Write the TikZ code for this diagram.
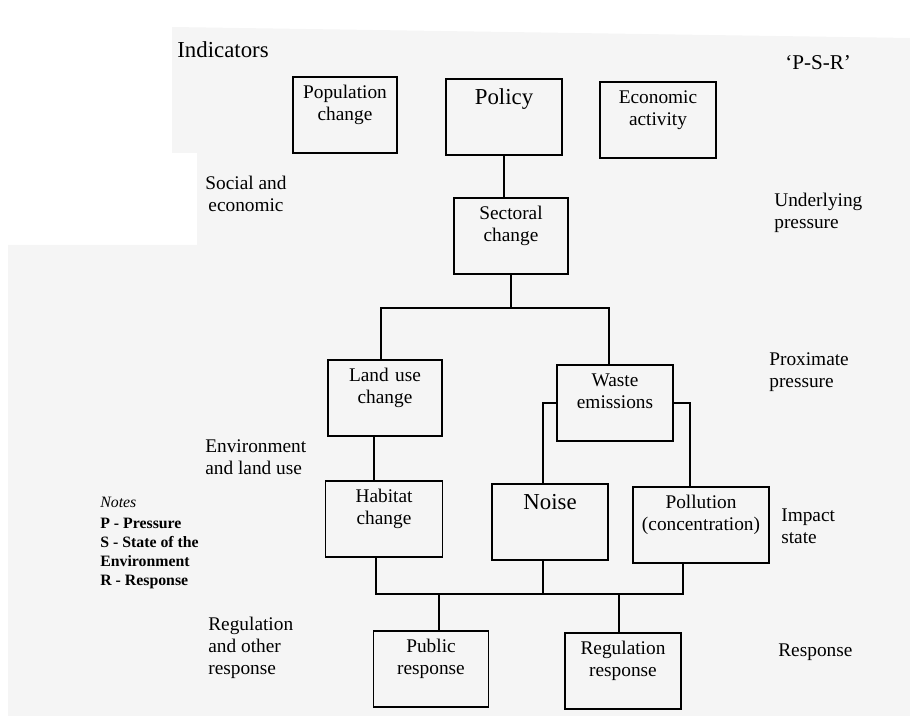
\documentclass[tikz,border=0pt]{standalone}
\usepackage{fontspec}
\setmainfont{Liberation Serif}
\usepackage{tikz}
\usetikzlibrary{positioning,calc}

\definecolor{paperGrey}{RGB}{245,245,245}

\tikzset{
  box/.style={draw, line width=0.8pt, text width=2.32cm, align=center,
    inner xsep=0pt, inner ysep=3pt, text height=9.5pt, text depth=27.75pt,
    font=\fontsize{11}{12.5}\selectfont},
  bigbox/.style={box, text height=11.7pt, text depth=25.55pt,
    font=\fontsize{13}{15}\selectfont},
  side/.style={anchor=west, align=left, inner sep=0pt,
    font=\fontsize{11}{12.5}\selectfont},
  link/.style={line width=0.8pt}
}

\begin{document}
\begin{tikzpicture}[x=0.02cm, y=-0.02cm]
  \useasboundingbox (0,0) rectangle (910,716);
  % scanned page background
  \fill[paperGrey] (172,27) -- (910,38) -- (910,716) -- (8,716) -- (8,245)
    -- (197,245) -- (197,153) -- (172,153) -- cycle;

  % Headings
  \node[side, font=\fontsize{13}{15}\selectfont] (indicators) at (177,50) {Indicators};
  \node[side, font=\fontsize{12}{14}\selectfont] (psr) at (785,63) {‘P-S-R’};

  % Drivers
  \node[box, text width=2.08cm] (pop) at (345,115) {Population\\change};
  \node[bigbox] (pol) at (504,117) {Policy};
  \node[box] (eco) at (658,120) {Economic\\activity};
  \node[box, text width=2.28cm] (sec) at (511,236) {Sectoral\\change};
  % Proximate pressures
  \node[box, text width=2.28cm] (land) at (385,398) {Land use\\change};
  \node[box] (waste) at (615,403) {Waste\\emissions};
  % Impacts
  \node[box, text width=2.34cm] (hab) at (384,519) {Habitat\\change};
  \node[bigbox] (noise) at (550,522) {Noise};
  \node[box, text width=2.72cm] (pollu) at (701,525) {Pollution\\(concentration)};
  % Responses
  \node[box, text width=2.3cm] (pub) at (431,669) {Public\\response};
  \node[box] (reg) at (623,671) {Regulation\\response};

  % Row labels, left
  \node[side, align=center, anchor=center] (social) at (246,194) {Social and\\economic};
  \node[side] (envlab) at (205,457) {Environment\\and land use};
  \node[side] (reglab) at (208,648) {Regulation\\and other\\response};
  % Row labels, right
  \node[side] (under) at (774,213) {Underlying\\pressure};
  \node[side] (prox) at (769,372) {Proximate\\pressure};
  \node[side] (impact) at (781,526) {Impact\\state};
  \node[side] (resp) at (778,652) {Response};

  % Key
  \node[side, anchor=north west, font=\fontsize{9}{10.8}\selectfont] (notes) at (100,497)
    {\textit{Notes}\\[1pt]\textbf{P - Pressure}\\\textbf{S - State of the}\\\textbf{Environment}\\\textbf{R - Response}};

  % Connectors
  \coordinate (fork) at (511,308);
  \coordinate (merge) at (543,594);
  \draw[link] (pol.south) -- (pol.south |- sec.north);
  \draw[link] (sec.south) -- (fork);
  \draw[link] ([xshift=-0.8mm]land.north) |- (fork) -| ([xshift=-1.2mm]waste.north);
  \draw[link] (waste.west) -| ([xshift=-1.4mm]noise.north);
  \draw[link] (waste.east) -| ([xshift=-2.2mm]pollu.north);
  \draw[link] ([xshift=-2.2mm]land.south) -- ([xshift=-2.2mm]land.south |- hab.north);
  \draw[link] ([xshift=-1.6mm]hab.south) |- (merge) -| ([xshift=-3.6mm]pollu.south);
  \draw[link] (noise.south -| merge) -- (merge);
  \draw[link] ([xshift=1.6mm]pub.north) -- ([xshift=1.6mm]pub.north |- merge);
  \draw[link] ([xshift=-0.8mm]reg.north) -- ([xshift=-0.8mm]reg.north |- merge);
\end{tikzpicture}
\end{document}
